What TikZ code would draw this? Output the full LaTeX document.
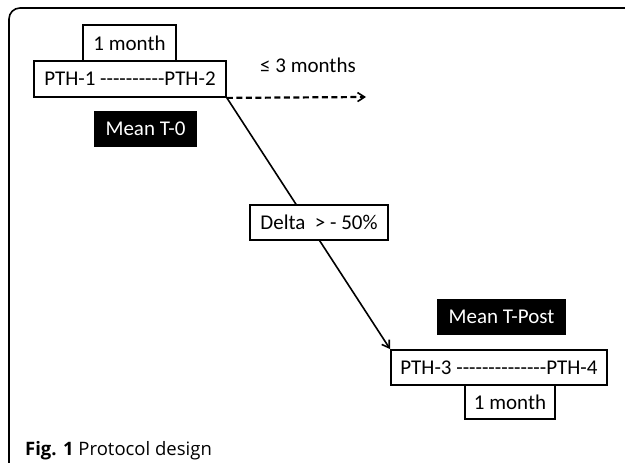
\documentclass[tikz,border=0pt]{standalone}
\usepackage{fontspec}
\setmainfont{Carlito}[Ligatures=TeXOff]
\newfontfamily\capfont{Open Sans}
\usetikzlibrary{arrows.meta}
\begin{document}
\begin{tikzpicture}[x=1pt,y=1pt,
  wbox/.style={draw=black,line width=1.8pt,fill=white,inner sep=0pt,font=\fontsize{21}{24}\selectfont},
  bbox/.style={fill=black,text=white,inner sep=0pt,font=\fontsize{21}{24}\selectfont},
  conn/.style={line width=1.6pt,-{Straight Barb[length=7pt,width=9pt,line width=1.6pt]}}]
\useasboundingbox (0,0) rectangle (625,-463);
\fill[white] (0,0) rectangle (625,-463);
\draw[line width=1.6pt,rounded corners=11pt] (9,-480) -- (9,-8) -- (650,-8);
\node[wbox,minimum width=93pt,minimum height=36pt] (m1) at (129.5,-43) {1 month};
\node[wbox,minimum width=192pt,minimum height=36pt] (p12) at (130,-79) {PTH-1 ----------PTH-2};
\node[bbox,minimum width=103pt,minimum height=36pt] (t0) at (145.5,-129) {Mean T-0};
\node[font=\fontsize{21}{24}\selectfont] (le3) at (308,-65) {≤ 3 months};
\coordinate (dend) at (366,-97);
\node[wbox,minimum width=216pt,minimum height=35pt] (p34) at (499,-367.5) {PTH-3 --------------PTH-4};
\draw[conn,line width=2.2pt,dash pattern=on 6pt off 3.5pt] (p12.south east) -- (dend);
\draw[conn] (p12.south east) -- (p34.north west);
\node[wbox,minimum width=138pt,minimum height=35pt] (delta) at (319,-222.5) {Delta~ > - 50\%};
\node[bbox,minimum width=129pt,minimum height=36pt] (tp) at (501.5,-317) {Mean T-Post};
\node[wbox,minimum width=90pt,minimum height=34pt] (m2) at (510,-402) {1 month};
\node[anchor=base west,inner sep=0pt,font=\capfont\fontsize{18.5}{22}\selectfont] (cap) at (25,-455) {\textbf{Fig. 1} Protocol design};
\end{tikzpicture}
\end{document}
